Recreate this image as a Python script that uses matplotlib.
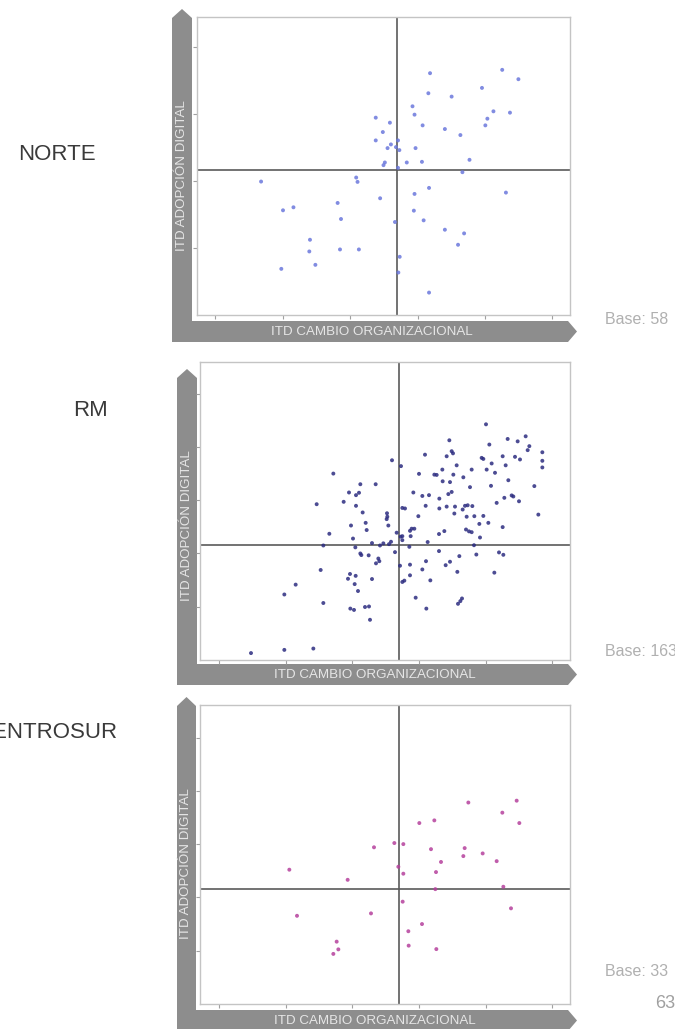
import matplotlib.pyplot as plt
from matplotlib.patches import Polygon

plt.rcParams['font.family'] = ['Liberation Sans', 'DejaVu Sans']

# datos (ITD cambio organizacional, ITD adopcion digital)
norte_x = [63.7, 85.1, 89.9, 63.2, 70.1, 79.1, 58.5, 59.1, 47.6, 51.8, 61.5, 82.5, 87.4, 80.7, 80.1,
           49.7, 68.1, 72.7, 47.6, 54.2, 52.1, 51.1, 53.6, 54.6, 59.4, 50.3, 49.9, 56.8, 61.3, 75.4,
           54.2, 73.3, 13.6, 41.8, 42.2, 63.4, 86.2, 59.1, 48.9, 36.3, 20.1, 23.2, 58.9, 37.3, 61.8,
           53.3, 68.1, 73.8, 28.1, 27.9, 37.0, 42.6, 72.0, 54.7, 29.7, 19.6, 54.3, 63.4]
norte_y = [72.3, 73.3, 70.5, 66.3, 65.3, 67.9, 62.4, 59.9, 59.0, 57.5, 56.7, 60.9, 60.5, 58.7, 56.7,
           54.7, 55.6, 53.8, 52.2, 52.2, 51.0, 49.9, 50.2, 49.3, 49.9, 45.6, 44.8, 45.6, 45.8, 46.4,
           44.0, 42.7, 39.9, 41.1, 39.8, 38.0, 36.6, 36.2, 34.9, 33.5, 31.3, 32.2, 31.2, 28.7, 28.3,
           27.8, 25.5, 24.4, 22.5, 19.0, 19.6, 19.6, 21.0, 17.4, 15.0, 13.8, 12.7, 6.7]

rm_x = [80.1, 69.1, 86.6, 89.6, 92.0, 81.1, 93.1, 92.6, 97.0, 97.0, 97.0, 69.8, 70.2, 68.3, 61.8,
        51.9, 54.6, 78.8, 79.3, 85.1, 88.8, 90.3, 81.8, 86.0, 71.3, 67.0, 75.8, 80.3, 82.8, 34.3,
        60.0, 64.6, 65.3, 70.3, 73.3, 86.8, 67.1, 69.3, 42.4, 47.0, 81.6, 94.6, 75.3, 39.0, 42.0,
        41.1, 58.3, 61.0, 63.0, 69.8, 68.8, 66.1, 85.6, 87.8, 88.3, 90.0, 83.3, 29.3, 37.4, 41.1,
        55.0, 55.8, 62.0, 68.3, 70.8, 73.8, 74.6, 66.1, 73.1, 76.0, 43.1, 50.4, 50.5, 50.3, 59.8,
        70.6, 74.3, 76.6, 79.3, 95.8, 44.0, 39.6, 50.8, 78.1, 80.8, 85.1, 44.3, 57.8, 58.6, 57.3,
        74.1, 75.0, 75.8, 67.6, 66.0, 33.1, 53.3, 55.0, 57.5, 78.3, 40.2, 31.3, 40.9, 45.9, 48.3,
        49.3, 51.0, 55.0, 62.6, 76.5, 57.1, 52.8, 66.0, 42.4, 42.7, 44.9, 77.2, 84.0, 85.3, 72.1,
        47.8, 48.1, 47.1, 69.3, 68.0, 62.1, 57.3, 54.3, 30.5, 61.0, 71.5, 82.6, 39.3, 41.0, 57.3,
        38.7, 45.9, 63.4, 55.0, 55.6, 40.7, 23.0, 41.7, 19.6, 59.0, 72.9, 72.4, 71.7, 31.3, 43.8,
        45.0, 39.4, 40.5, 62.2, 45.3, 9.6, 19.6, 28.3, 54.5, 51.6]
rm_y = [88.5, 82.5, 83.0, 82.1, 84.0, 80.9, 80.3, 78.8, 78.0, 74.8, 72.3, 78.4, 77.6, 76.5, 77.1,
        75.0, 72.8, 75.9, 75.5, 76.5, 76.3, 75.3, 73.8, 73.1, 73.1, 71.5, 71.5, 71.5, 70.3, 70.0,
        69.9, 69.6, 69.5, 69.6, 68.6, 67.5, 67.1, 66.8, 66.0, 66.0, 65.4, 65.3, 64.9, 62.9, 62.8,
        61.9, 62.9, 61.6, 61.9, 63.1, 62.3, 60.6, 60.9, 61.8, 61.4, 59.6, 59.0, 58.5, 59.4, 57.9,
        57.1, 56.9, 57.9, 57.6, 57.6, 57.9, 58.1, 56.9, 56.5, 57.8, 55.4, 55.1, 53.8, 52.9, 54.0,
        55.0, 53.8, 54.0, 54.1, 54.6, 51.5, 50.5, 50.5, 51.1, 51.5, 49.9, 48.8, 49.3, 49.3, 48.5,
        49.0, 48.3, 48.0, 48.4, 47.3, 47.4, 47.8, 46.5, 46.5, 46.0, 45.6, 43.0, 42.3, 43.9, 43.0,
        43.8, 43.5, 45.0, 44.3, 43.1, 42.5, 40.5, 40.9, 40.0, 39.4, 39.3, 39.6, 40.4, 39.5, 39.0,
        38.1, 37.1, 36.3, 36.9, 35.6, 37.1, 35.8, 35.4, 33.8, 34.0, 33.1, 32.8, 32.3, 31.6, 31.8,
        30.5, 30.4, 29.9, 29.3, 29.8, 28.5, 28.3, 25.9, 24.6, 23.4, 23.1, 22.1, 21.1, 21.4, 19.9,
        20.1, 19.3, 18.8, 19.3, 15.1, 2.6, 3.8, 4.3, 46.3, 44.4]

centro_x = [74.8, 89.3, 85.0, 90.1, 60.1, 64.6, 52.6, 55.3, 46.5, 63.6, 73.7, 79.1, 73.3, 66.6, 83.3,
            21.1, 53.8, 55.3, 65.1, 38.6, 85.3, 64.9, 55.1, 87.6, 23.4, 45.6, 60.9, 56.8, 35.3, 56.9,
            35.8, 65.2, 34.3]
centro_y = [75.6, 76.3, 71.8, 67.9, 67.9, 68.9, 60.4, 60.0, 58.8, 58.1, 58.5, 56.5, 55.5, 53.3, 53.6,
            50.4, 51.5, 48.9, 49.5, 46.6, 44.0, 43.1, 38.4, 35.9, 33.1, 34.0, 30.0, 27.3, 23.4, 21.9,
            20.5, 20.6, 18.8]

corte_x = 54.0
corte_y = 43.3

W, H = 675, 1029
fig = plt.figure(figsize=(W / 100, H / 100), dpi=100)
fig.patch.set_facecolor('white')

bg = fig.add_axes([0, 0, 1, 1], zorder=0)
bg.set_xlim(0, W)
bg.set_ylim(H, 0)
bg.axis('off')

gris_barra = '#8d8d8d'
texto_barra = '#e6e6e6'

paneles = [
    # nombre, x, y, color, caja (izq, der, arriba, abajo), limites, barra, etiquetas, base
    dict(nombre='NORTE', x=norte_x, y=norte_y, color='#6b78dc',
         caja=(197, 570, 17, 315), xlim=(-5.4, 105.2), ylim=(0, 89.1), yt=[20, 40, 60, 80],
         barra=(172, 192, 9, 321, 342), xl=(372, 332), yl=(182, 176),
         rot=(18, 154, 'left'), base='Base: 58', base_y=320),
    dict(nombre='RM', x=rm_x, y=rm_y, color='#2c2c80',
         caja=(200, 570, 362, 660), xlim=(-5.7, 105.3), ylim=(0, 111.9), yt=[20, 40, 60, 80, 100],
         barra=(177, 197, 369, 664, 685), xl=(375, 675), yl=(187, 526),
         rot=(73, 410, 'left'), base='Base: 163', base_y=652),
    dict(nombre='CENTROSUR', x=centro_x, y=centro_y, color='#b5409c',
         caja=(200, 570, 705, 1004), xlim=(-5.7, 105.3), ylim=(0, 112.2), yt=[20, 40, 60, 80, 100],
         barra=(177, 196, 697, 1010, 1031), xl=(375, 1021), yl=(186, 864),
         rot=(118, 733, 'right'), base='Base: 33', base_y=972),
]

for p in paneles:
    x0, x1, ytop, y0, y1 = p['barra']
    xend = 577
    cab = 9
    forma = [(x0, y1), (x0, ytop + cab), ((x0 + x1) / 2, ytop), (x1, ytop + cab), (x1, y0),
             (xend - cab, y0), (xend, (y0 + y1) / 2), (xend - cab, y1)]
    bg.add_patch(Polygon(forma, closed=True, facecolor=gris_barra, edgecolor='none'))
    bg.text(p['xl'][0], p['xl'][1], 'ITD CAMBIO ORGANIZACIONAL', ha='center', va='center',
            fontsize=9.6, color=texto_barra)
    bg.text(p['yl'][0], p['yl'][1], 'ITD ADOPCIÓN DIGITAL', ha='center', va='center',
            rotation=90, fontsize=9.6, color=texto_barra)
    bg.text(p['rot'][0], p['rot'][1], p['nombre'], ha=p['rot'][2], va='center',
            fontsize=16, color='#3a3a3a')
    bg.text(605, p['base_y'], p['base'], ha='left', va='center', fontsize=11.5, color='#b0b0b0')

    l, r, t, b = p['caja']
    ax = fig.add_axes([l / W, (H - b) / H, (r - l) / W, (b - t) / H], zorder=1)
    ax.set_facecolor('white')
    ax.set_xlim(*p['xlim'])
    ax.set_ylim(*p['ylim'])
    ax.set_xticks([0, 20, 40, 60, 80, 100])
    ax.set_yticks(p['yt'])
    ax.set_xticklabels([])
    ax.set_yticklabels([])
    ax.tick_params(direction='out', length=3, width=0.8, color='#a0a0a0')
    for s in ax.spines.values():
        s.set_color('#c4c4c4')
        s.set_linewidth(1.0)
    ax.axvline(corte_x, color='#5a5a5a', lw=1.2, zorder=1)
    ax.axhline(corte_y, color='#5a5a5a', lw=1.2, zorder=1)
    ax.scatter(p['x'], p['y'], s=8, color=p['color'], alpha=0.85, edgecolors='none', zorder=2)

bg.text(655, 1003, '63', ha='left', va='center', fontsize=13, color='#a0a0a0')

fig.savefig('out.png', dpi=100, facecolor='white')
